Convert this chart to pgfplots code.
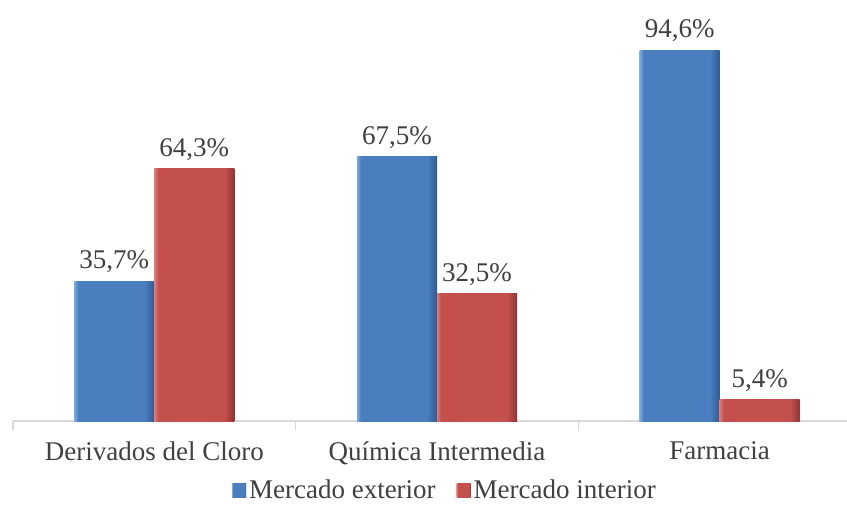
\documentclass[border=0pt]{standalone}
\usepackage{fontspec}
\setmainfont{Liberation Serif}
\usepackage{pgfplots}
\pgfplotsset{compat=1.18}

\definecolor{txt}{HTML}{404040}
\definecolor{axln}{HTML}{D9D9D9}
\definecolor{bluB}{HTML}{4A7EBF}
\definecolor{bluL}{HTML}{7AA8E6}
\definecolor{bluD}{HTML}{2E5A91}
\definecolor{redB}{HTML}{C4504D}
\definecolor{redL}{HTML}{E07A76}
\definecolor{redD}{HTML}{8E3431}

% bevel look: light left edge, dark right edge (path spans 25bp..75bp)
\pgfdeclarehorizontalshading{bluebar}{100bp}{color(0bp)=(bluL); color(25bp)=(bluL); color(27.5bp)=(bluB); color(69bp)=(bluB); color(75bp)=(bluD); color(100bp)=(bluD)}
\pgfdeclarehorizontalshading{redbar}{100bp}{color(0bp)=(redL); color(25bp)=(redL); color(27.5bp)=(redB); color(69bp)=(redB); color(75bp)=(redD); color(100bp)=(redD)}

\newcommand{\lbl}{\fontsize{13.5}{16}\selectfont}

\pgfplotsset{
  blu/.style={shade, shading=bluebar, draw=none, bar shift=-20pt,
    legend image code/.code={\shade[shading=bluebar] (0pt,-3.5pt) rectangle (7pt,3.5pt);}},
  red/.style={shade, shading=redbar, draw=none, bar shift=20pt,
    legend image code/.code={\shade[shading=redbar] (0pt,-3.5pt) rectangle (7pt,3.5pt);}},
}

\begin{document}
\begin{tikzpicture}
\begin{axis}[
  scale only axis,
  width=424pt, height=196pt,
  xmin=-0.5, xmax=2.5,
  ymin=0, ymax=100,
  axis x line*=bottom,
  axis y line=none,
  ytick=\empty,
  x axis line style={draw=axln, line width=0.8pt},
  ybar=0pt, bar width=40pt,
  xtick={0,1,2},
  xticklabels={Derivados del Cloro, Química Intermedia, Farmacia},
  major tick length=0pt,
  minor xtick={-0.5,0.5,1.5,2.5},
  minor tick length=4.5pt,
  tick align=outside,
  minor x tick style={draw=axln, line width=0.8pt},
  x tick label style={font=\lbl, text=txt, yshift=-7pt},
  nodes near coords,
  point meta=explicit symbolic,
  every node near coord/.append style={font=\lbl, text=txt, yshift=0.5pt},
  legend style={at={(0.51,-0.178)}, anchor=center, draw=none, fill=none,
    font=\lbl, text=txt, legend columns=2, inner sep=0pt,
    nodes={inner xsep=1.5pt, inner ysep=0.5pt},
    /tikz/every even column/.append style={column sep=9pt}},
]
% one plot per bar so every bar gets its own bevel shading
\addplot[blu] coordinates {(0,35.7)[35,7\%]};
\addlegendentry{Mercado exterior}
\addplot[red] coordinates {(0,64.3)[64,3\%]};
\addlegendentry{Mercado interior}
\addplot[blu, forget plot] coordinates {(1,67.5)[67,5\%]};
\addplot[blu, forget plot] coordinates {(2,94.6)[94,6\%]};
\addplot[red, forget plot] coordinates {(1,32.5)[32,5\%]};
\addplot[red, forget plot] coordinates {(2,5.4)[5,4\%]};
\coordinate (O) at (rel axis cs:0,0);
\end{axis}
\pgfresetboundingbox
\useasboundingbox ([xshift=-6.5pt,yshift=-42pt]O) rectangle ++(423.5pt,252.5pt);
\end{tikzpicture}
\end{document}
